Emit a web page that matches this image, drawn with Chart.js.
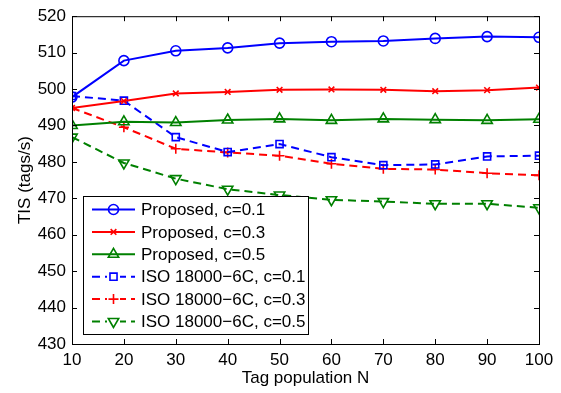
<!DOCTYPE html>
<html>
<head>
<meta charset="utf-8">
<script src="https://cdn.jsdelivr.net/npm/chart.js@4/dist/chart.umd.min.js"></script>
<style>
  html, body { margin: 0; padding: 0; background: #fff; }
  #wrap { width: 561px; height: 393px; }
</style>
</head>
<body>
<div id="wrap"><canvas id="tisChart" width="561" height="393"></canvas></div>
<script>
// Tag population N
const tagPopulation = [10, 20, 30, 40, 50, 60, 70, 80, 90, 100];

// TIS (tags/s)
const proposed01 = [497.8, 507.8, 510.5, 511.3, 512.6, 513.0, 513.2, 513.9, 514.4, 514.2];
const proposed03 = [494.8, 496.7, 498.8, 499.2, 499.8, 499.9, 499.8, 499.4, 499.7, 500.4];
const proposed05 = [490.0, 491.0, 490.8, 491.5, 491.8, 491.4, 491.8, 491.6, 491.4, 491.7];
const iso01 = [498.1, 496.8, 486.8, 482.7, 484.9, 481.3, 479.1, 479.3, 481.5, 481.7];
const iso03 = [494.8, 489.5, 483.6, 482.6, 481.7, 479.5, 478.1, 477.9, 476.9, 476.3];
const iso05 = [486.8, 479.7, 475.4, 472.5, 470.9, 469.6, 469.1, 468.5, 468.5, 467.4];

const seriesLabels = [
  'Proposed, c=0.1', 'Proposed, c=0.3', 'Proposed, c=0.5',
  'ISO 18000\u22126C, c=0.1', 'ISO 18000\u22126C, c=0.3', 'ISO 18000\u22126C, c=0.5'
];
const yTicks = [430, 440, 450, 460, 470, 480, 490, 500, 510, 520];

const FONT = 'Liberation Sans, Arial, Helvetica, sans-serif';
const BLUE = '#0000ff', RED = '#ff0000', GREEN = '#008000';
const DASH = [8, 5];

function toPoints(values) {
  return values.map((v, i) => ({ x: tagPopulation[i], y: v }));
}

function makeSet(label, values, color, style, radius, dashed, rotation) {
  return {
    label: label,
    data: toPoints(values),
    borderColor: color,
    backgroundColor: 'transparent',
    borderWidth: 2,
    borderDash: dashed ? DASH : [],
    pointStyle: style,
    pointRadius: radius,
    pointRotation: rotation || 0,
    pointBorderColor: color,
    pointBackgroundColor: 'transparent',
    pointBorderWidth: 1.6,
    tension: 0,
    fill: false
  };
}

// box around plot + inward ticks on all four sides (matlab look)
const boxTicksPlugin = {
  id: 'boxTicks',
  afterDraw(chart) {
    const { ctx, chartArea: { top, bottom, left, right } } = chart;
    const xs = chart.scales.x, ys = chart.scales.y;
    ctx.save();
    ctx.strokeStyle = '#000';
    ctx.lineWidth = 1;
    ctx.setLineDash([]);
    ctx.strokeRect(left + 0.5, top + 0.5, right - left, bottom - top);
    const len = 5;
    ctx.beginPath();
    tagPopulation.forEach((v) => {
      const px = Math.round(xs.getPixelForValue(v)) + 0.5;
      ctx.moveTo(px, bottom); ctx.lineTo(px, bottom - len);
      ctx.moveTo(px, top); ctx.lineTo(px, top + len);
    });
    yTicks.forEach((v) => {
      const py = Math.round(ys.getPixelForValue(v)) + 0.5;
      ctx.moveTo(left, py); ctx.lineTo(left + len, py);
      ctx.moveTo(right, py); ctx.lineTo(right - len, py);
    });
    ctx.stroke();
    ctx.restore();
  }
};

// legend box drawn like the original (line sample + marker + text)
const boxLegendPlugin = {
  id: 'boxLegend',
  afterDraw(chart) {
    const { ctx } = chart;
    const bx = 83, by = 196, bw = 225, bh = 138;
    const rowH = 22.4, firstRow = 209.5;
    ctx.save();
    ctx.fillStyle = '#fff';
    ctx.fillRect(bx, by, bw, bh);
    ctx.strokeStyle = '#000';
    ctx.lineWidth = 1;
    ctx.strokeRect(bx + 0.5, by + 0.5, bw, bh);
    chart.data.datasets.forEach((ds, i) => {
      const y = firstRow + i * rowH;
      ctx.strokeStyle = ds.borderColor;
      ctx.lineWidth = ds.borderWidth;
      ctx.setLineDash(ds.borderDash);
      ctx.beginPath();
      ctx.moveTo(92, y);
      ctx.lineTo(135, y);
      ctx.stroke();
      ctx.setLineDash([]);
      ctx.lineWidth = ds.pointBorderWidth;
      ctx.fillStyle = '#fff';
      if (ds.borderDash.length) {
        ctx.fillRect(107, y - 6, 13, 12);
      }
      ctx.fillStyle = 'transparent';
      if (Chart.helpers && Chart.helpers.drawPoint) {
        Chart.helpers.drawPoint(ctx, {
          pointStyle: ds.pointStyle,
          rotation: ds.pointRotation,
          radius: ds.pointRadius,
          borderWidth: ds.pointBorderWidth
        }, 113.5, y);
      }
      ctx.fillStyle = '#000';
      ctx.font = '17px ' + FONT;
      ctx.textAlign = 'left';
      ctx.textBaseline = 'middle';
      ctx.fillText(ds.label, 141, y + 1);
    });
    ctx.restore();
  }
};

const ctx = document.getElementById('tisChart').getContext('2d');
new Chart(ctx, {
  type: 'line',
  data: {
    datasets: [
      makeSet(seriesLabels[0], proposed01, BLUE, 'circle', 5, false),
      makeSet(seriesLabels[1], proposed03, RED, 'crossRot', 4, false),
      makeSet(seriesLabels[2], proposed05, GREEN, 'triangle', 6, false),
      makeSet(seriesLabels[3], iso01, BLUE, 'rect', 5, true),
      makeSet(seriesLabels[4], iso03, RED, 'cross', 5, true),
      makeSet(seriesLabels[5], iso05, GREEN, 'triangle', 6, true, 180)
    ]
  },
  options: {
    responsive: false,
    animation: false,
    layout: { padding: { top: 11, right: 22, left: 0, bottom: 0 } },
    plugins: {
      legend: { display: false },
      tooltip: { enabled: false }
    },
    scales: {
      x: {
        type: 'linear',
        min: 10,
        max: 100,
        afterBuildTicks(scale) {
          scale.ticks = tagPopulation.map((v) => ({ value: v }));
        },
        afterFit(scale) { scale.height = 49; },
        grid: { display: false, drawTicks: false },
        border: { display: false },
        ticks: {
          color: '#000',
          padding: 6,
          maxRotation: 0,
          autoSkip: false,
          font: { family: FONT, size: 17 }
        },
        title: {
          display: true,
          text: 'Tag population N',
          color: '#000',
          font: { family: FONT, size: 17, lineHeight: 1.2 },
          padding: { top: 0, bottom: 4 }
        }
      },
      y: {
        min: 430,
        max: 520,
        afterBuildTicks(scale) {
          scale.ticks = yTicks.map((v) => ({ value: v }));
        },
        afterFit(scale) { scale.width = 72; },
        grid: { display: false, drawTicks: false },
        border: { display: false },
        ticks: {
          color: '#000',
          padding: 6,
          font: { family: FONT, size: 17 }
        },
        title: {
          display: true,
          text: 'TIS (tags/s)',
          color: '#000',
          font: { family: FONT, size: 17, lineHeight: 1.2 },
          padding: { top: 15, bottom: 0 }
        }
      }
    }
  },
  plugins: [boxTicksPlugin, boxLegendPlugin]
});
</script>
</body>
</html>
